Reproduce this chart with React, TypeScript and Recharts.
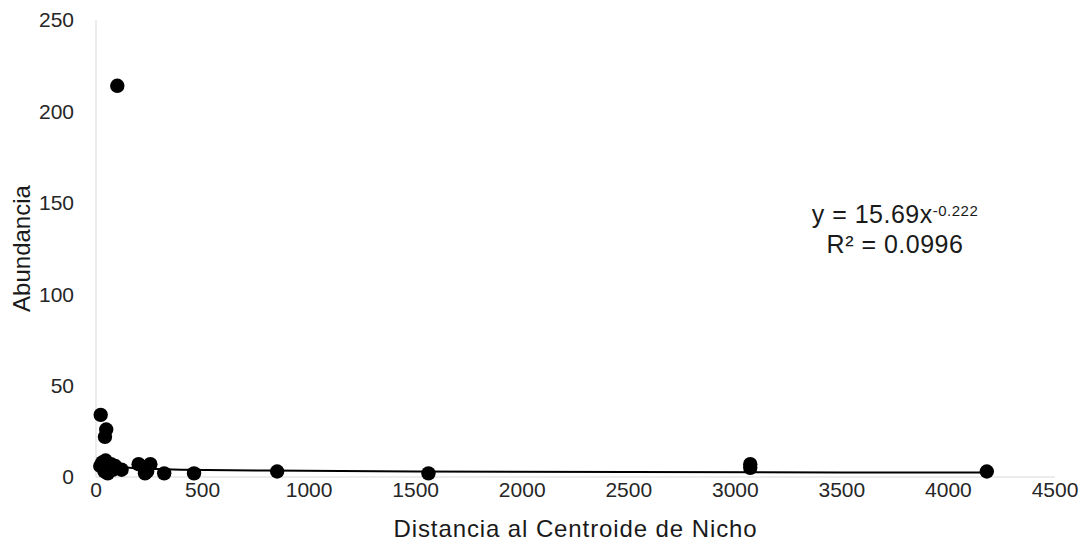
import { ScatterChart, Scatter, XAxis, YAxis } from 'recharts';

// distance to niche centroid vs abundance
const distancia = [20, 30, 45, 40, 55, 60, 70, 80, 90, 120, 200, 255, 230, 240, 320, 460, 850, 1560, 3070, 3070, 4180, 22, 48, 42, 100];
const abundancia = [6, 8, 9, 3, 2, 5, 7, 4, 6, 4, 7, 7, 2, 3, 2, 2, 3, 2, 7, 5, 3, 34, 26, 22, 214];

// power trendline y = 15.69x^-0.222
const trendX = [20, 50, 100, 200, 400, 800, 1500, 2500, 3500, 4180];
const trendY = [8.1, 6.6, 5.6, 4.7, 4.0, 3.5, 3.0, 2.7, 2.5, 2.4];

const xTicks = [0, 500, 1000, 1500, 2000, 2500, 3000, 3500, 4000, 4500];
const yTicks = [0, 50, 100, 150, 200, 250];

const puntos = distancia.map((x, i) => ({ x, y: abundancia[i] }));
const tendencia = trendX.map((x, i) => ({ x, y: trendY[i] }));

const font = '"Liberation Sans", Arial, sans-serif';

const Dot = (props: any) => <circle cx={props.cx} cy={props.cy} r={7.2} fill="#000" />;

export default function App() {
  return (
    <div style={{ position: 'absolute', left: 0, top: 0, width: 1086, height: 544, background: '#fff', fontFamily: font }}>
      <ScatterChart width={1086} height={544} margin={{ top: 20, right: 31, bottom: 0, left: 0 }}>
        <XAxis
          type="number"
          dataKey="x"
          domain={[0, 4500]}
          ticks={xTicks}
          height={67}
          stroke="#d9d9d9"
          tickLine={false}
          tickSize={0}
          tickMargin={5}
          tick={{ fill: '#262626', fontSize: 21, fontFamily: font }}
          label={{ value: 'Distancia al Centroide de Nicho', position: 'insideBottom', offset: 7, fill: '#1a1a1a', fontSize: 24, fontFamily: font, letterSpacing: 0.9 }}
        />
        <YAxis
          type="number"
          dataKey="y"
          domain={[0, 250]}
          ticks={yTicks}
          width={96}
          stroke="#d9d9d9"
          tickLine={false}
          tickSize={0}
          tickMargin={22}
          tick={{ fill: '#262626', fontSize: 21, fontFamily: font }}
          label={{ value: 'Abundancia', angle: -90, position: 'center', dx: -27, fill: '#1a1a1a', fontSize: 24, fontFamily: font }}
        />
        <Scatter
          data={tendencia}
          line={{ stroke: '#000', strokeWidth: 2 }}
          shape={() => <g />}
          isAnimationActive={false}
        />
        <Scatter data={puntos} fill="#000" shape={Dot} isAnimationActive={false} />
      </ScatterChart>
      <div style={{ position: 'absolute', left: 785, top: 199, width: 220, textAlign: 'center', fontSize: 25, lineHeight: '30px', color: '#1a1a1a', letterSpacing: 0.5 }}>
        <div>y = 15.69x<sup style={{ fontSize: 15, verticalAlign: 'top', position: 'relative', top: -3 }}>-0.222</sup></div>
        <div>R² = 0.0996</div>
      </div>
    </div>
  );
}
